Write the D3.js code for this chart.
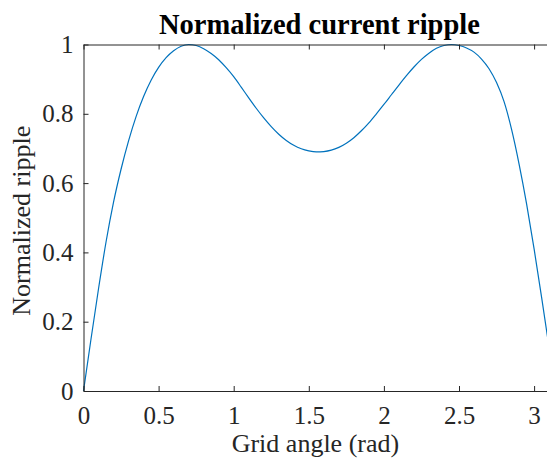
<!DOCTYPE html>
<html>
<head>
<meta charset="utf-8">
<script src="https://cdn.jsdelivr.net/npm/d3@7"></script>
<style>
  html, body { margin: 0; padding: 0; background: #fff; }
  svg { display: block; }
  text { font-family: "Liberation Serif", "Times New Roman", Times, serif; fill: #262626; }
</style>
</head>
<body>
<svg id="chart" width="547" height="459"></svg>
<script>
// Grid angle (rad) samples
const angle = [0, 0.05, 0.1, 0.15, 0.2, 0.25, 0.3, 0.35, 0.4, 0.45, 0.5, 0.55, 0.6, 0.65, 0.7,
  0.75, 0.8, 0.85, 0.9, 0.95, 1.0, 1.05, 1.1, 1.15, 1.2, 1.25, 1.3, 1.35, 1.4, 1.45, 1.5, 1.55, 1.6,
  1.65, 1.7, 1.75, 1.8, 1.85, 1.9, 1.95, 2.0, 2.05, 2.1, 2.15, 2.2, 2.25, 2.3, 2.35, 2.4, 2.45,
  2.5, 2.55, 2.6, 2.65, 2.7, 2.75, 2.8, 2.85, 2.9, 2.95, 3.0, 3.05, 3.1, 3.1416];
// Normalized current ripple at each angle
const ripple = [0, 0.15, 0.295, 0.43, 0.545, 0.64, 0.722, 0.792, 0.85, 0.897, 0.934, 0.962, 0.982, 0.995, 1.0,
  0.997, 0.988, 0.974, 0.956, 0.933, 0.907, 0.877, 0.846, 0.816, 0.788, 0.763, 0.741, 0.723, 0.709, 0.699, 0.693, 0.690, 0.691,
  0.695, 0.703, 0.715, 0.731, 0.751, 0.774, 0.800, 0.827, 0.855, 0.883, 0.910, 0.935, 0.957, 0.975, 0.989, 0.997, 1.0,
  0.997, 0.99, 0.978, 0.958, 0.93, 0.89, 0.835, 0.755, 0.655, 0.54, 0.41, 0.27, 0.125, 0];

const xTicks = [0, 0.5, 1, 1.5, 2, 2.5, 3];
const yTicks = [0, 0.2, 0.4, 0.6, 0.8, 1];

const titleText = "Normalized current ripple";
const xLabel = "Grid angle (rad)";
const yLabel = "Normalized ripple";

const serif = '"Liberation Serif", "Times New Roman", Times, serif';
const svg = d3.select("#chart");
const plotLeft = 83.5, plotTop = 44.5, plotBottom = 391;
const pxPerRad = 150.2;
const plotRight = plotLeft + Math.PI * pxPerRad;

const x = d3.scaleLinear().domain([0, Math.PI]).range([plotLeft, plotRight]);
const y = d3.scaleLinear().domain([0, 1]).range([plotBottom, plotTop]);

const axisColor = "#262626";
const tickLen = 5;

// curve
const data = angle.map((a, i) => ({ a, r: ripple[i] }));
svg.append("path")
  .datum(data)
  .attr("fill", "none")
  .attr("stroke", "#0072BD")
  .attr("stroke-width", 1.2)
  .attr("d", d3.line().x(d => x(d.a)).y(d => y(d.r)).curve(d3.curveMonotoneX));

// axes (inward ticks, boxed)
const styleAxis = g => {
  g.attr("font-family", serif).attr("font-size", 25);
  g.selectAll(".domain").attr("stroke", axisColor).attr("stroke-width", 1);
  g.selectAll(".tick line").attr("stroke", axisColor).attr("stroke-width", 1);
  g.selectAll(".tick text").attr("fill", axisColor);
};

svg.append("g").attr("transform", `translate(0,${plotBottom})`)
  .call(d3.axisBottom(x).tickValues(xTicks).tickFormat(d3.format("~g"))
    .tickSizeInner(-tickLen).tickSizeOuter(0).tickPadding(tickLen + 10))
  .call(styleAxis);

svg.append("g").attr("transform", `translate(0,${plotTop})`)
  .call(d3.axisTop(x).tickValues(xTicks).tickFormat("")
    .tickSizeInner(-tickLen).tickSizeOuter(0))
  .call(styleAxis);

svg.append("g").attr("transform", `translate(${plotLeft},0)`)
  .call(d3.axisLeft(y).tickValues(yTicks).tickFormat(d3.format("~g"))
    .tickSizeInner(-tickLen).tickSizeOuter(0).tickPadding(tickLen + 5))
  .call(styleAxis);

svg.append("g").attr("transform", `translate(${plotRight},0)`)
  .call(d3.axisRight(y).tickValues(yTicks).tickFormat("")
    .tickSizeInner(-tickLen).tickSizeOuter(0))
  .call(styleAxis);

// title and labels
svg.append("text")
  .attr("x", (plotLeft + plotRight) / 2).attr("y", 34)
  .attr("text-anchor", "middle")
  .attr("font-family", serif)
  .attr("font-size", 28.5).attr("font-weight", "bold")
  .style("fill", "#000")
  .text(titleText);

svg.append("text")
  .attr("x", (plotLeft + plotRight) / 2 - 4).attr("y", 452)
  .attr("text-anchor", "middle")
  .attr("font-family", serif)
  .attr("font-size", 26)
  .text(xLabel);

svg.append("text")
  .attr("transform", `translate(30,${(plotTop + plotBottom) / 2 + 3}) rotate(-90)`)
  .attr("text-anchor", "middle")
  .attr("font-family", serif)
  .attr("font-size", 26)
  .text(yLabel);
</script>
</body>
</html>
